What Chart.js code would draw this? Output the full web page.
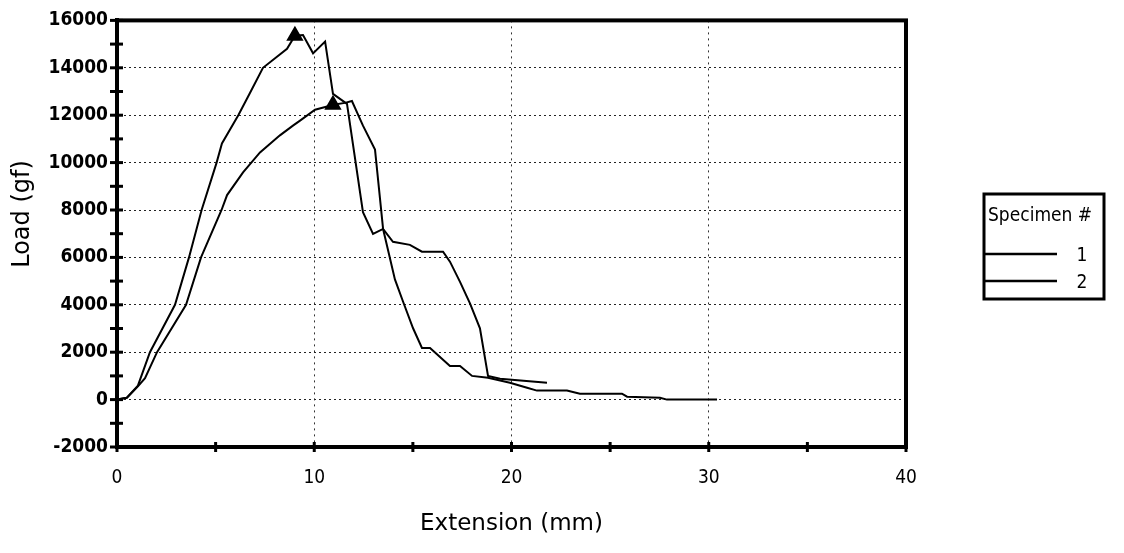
<!DOCTYPE html>
<html><head><meta charset="utf-8">
<style>html,body{margin:0;padding:0;background:#fff;}#wrap{width:1124px;height:553px;}</style>
<script src="https://cdn.jsdelivr.net/npm/chart.js@4.4.1/dist/chart.umd.min.js"></script>
</head><body><div id="wrap"><canvas id="c" width="1124" height="553"></canvas></div>
<script>
// ---- data ----
const seriesNames = ['1', '2'];
const legendTitle = 'Specimen #';
const xTitle = 'Extension (mm)';
const yTitle = 'Load (gf)';
const xTickLabels = [0, 10, 20, 30, 40];
const yTickLabels = [-2000, 0, 2000, 4000, 6000, 8000, 10000, 12000, 14000, 16000];

const ext1  = [0, 0.5, 1.06, 1.67, 2.94, 3.65, 4.29, 5.05, 5.32, 6.15, 6.74, 7.40, 8.62, 9.02, 9.43, 9.94, 10.55, 10.95, 11.66, 12.47, 12.98, 13.49, 13.99, 14.85, 15.46, 16.53, 16.88, 17.39, 17.90, 18.40, 18.81, 19.42, 21.80];
const load1 = [0, 80, 590, 2000, 4000, 6000, 8000, 10000, 10810, 12000, 12940, 14000, 14800, 15350, 15380, 14610, 15110, 12900, 12480, 7910, 6990, 7200, 6660, 6530, 6240, 6240, 5820, 4970, 4050, 3010, 1000, 880, 710];

const ext2  = [0, 0.5, 1.06, 1.42, 2.03, 3.50, 4.26, 5.30, 5.58, 6.39, 7.25, 8.26, 8.92, 9.28, 10.04, 10.80, 10.95, 11.56, 11.91, 12.47, 13.08, 13.49, 14.09, 14.50, 15.01, 15.46, 15.87, 16.88, 17.39, 18.00, 18.81, 19.92, 20.79, 21.29, 22.81, 23.47, 25.60, 25.86, 27.53, 27.88, 30.42];
const load2 = [0, 80, 560, 900, 2000, 4000, 6000, 8000, 8630, 9590, 10430, 11150, 11560, 11770, 12230, 12400, 12440, 12520, 12600, 11560, 10550, 7200, 5070, 4140, 3010, 2180, 2180, 1420, 1420, 1000, 920, 710, 500, 380, 380, 250, 250, 125, 80, 0, 0];

const peakIndex = [13, 16];

// ---- chart ----
const FONT_C = '"DejaVu Sans Condensed", "DejaVu Sans", sans-serif';
const FONT = '"DejaVu Sans", sans-serif';
const toXY = (xs, ys) => xs.map((x, i) => ({x: x, y: ys[i]}));

function mkDataset(name, xs, ys, peak) {
  return {
    label: name,
    data: toXY(xs, ys),
    borderColor: '#000',
    borderWidth: 2,
    tension: 0,
    fill: false,
    pointStyle: 'triangle',
    pointBackgroundColor: '#000',
    pointBorderColor: '#000',
    pointRadius: ctx => ctx.dataIndex === peak ? 8 : 0,
    pointHoverRadius: 0
  };
}

const frame = {
  id: 'frame',
  afterDraw(chart) {
    const {ctx, chartArea: a, scales: {x, y}} = chart;
    ctx.save();
    ctx.strokeStyle = '#000';
    ctx.lineWidth = 4;
    ctx.strokeRect(a.left, a.top, a.right - a.left, a.bottom - a.top);
    // tick marks across the axes
    ctx.lineWidth = 3;
    for (let v = y.min; v <= y.max; v += 1000) {
      const py = y.getPixelForValue(v);
      ctx.beginPath(); ctx.moveTo(a.left - 7, py); ctx.lineTo(a.left + 6, py); ctx.stroke();
    }
    for (let v = x.min; v <= x.max; v += 5) {
      const px = x.getPixelForValue(v);
      ctx.beginPath(); ctx.moveTo(px, a.bottom - 5); ctx.lineTo(px, a.bottom + 5); ctx.stroke();
    }
    // y axis title
    ctx.fillStyle = '#000';
    ctx.save();
    ctx.translate(23, 214);
    ctx.rotate(-Math.PI / 2);
    ctx.font = '24px ' + FONT;
    ctx.textAlign = 'center';
    ctx.textBaseline = 'middle';
    ctx.fillText(yTitle, 0, 0);
    ctx.restore();
    // legend
    const L = 984, T = 194, W = 120, H = 105;
    ctx.lineWidth = 3;
    ctx.strokeRect(L, T, W, H);
    ctx.font = '19px ' + FONT_C;
    ctx.textBaseline = 'middle';
    ctx.textAlign = 'left';
    ctx.fillText(legendTitle, L + 4, 216);
    const rows = [254, 281];
    ctx.lineWidth = 2.5;
    chart.data.datasets.forEach((ds, i) => {
      ctx.beginPath(); ctx.moveTo(L, rows[i]); ctx.lineTo(L + 73, rows[i]); ctx.stroke();
      ctx.textAlign = 'center';
      ctx.fillText(ds.label, L + 98, rows[i] + 2);
    });
    ctx.restore();
  }
};

new Chart(document.getElementById('c'), {
  type: 'line',
  data: {
    datasets: [
      mkDataset(seriesNames[0], ext1, load1, peakIndex[0]),
      mkDataset(seriesNames[1], ext2, load2, peakIndex[1])
    ]
  },
  options: {
    responsive: false,
    animation: false,
    devicePixelRatio: 1,
    layout: {padding: {top: 17, right: 218, left: 0, bottom: 0}},
    plugins: {legend: {display: false}, tooltip: {enabled: false}},
    scales: {
      x: {
        type: 'linear', min: 0, max: 40,
        afterFit: s => { s.height = 106; },
        ticks: {
          stepSize: 5, autoSkip: false, maxRotation: 0, padding: 20,
          color: '#000', font: {family: FONT_C, size: 19},
          callback: v => xTickLabels.includes(v) ? String(v) : ''
        },
        grid: {
          drawTicks: false, lineWidth: 1,
          color: c => (c.tick && [10, 20, 30].includes(c.tick.value)) ? '#333' : 'rgba(0,0,0,0)'
        },
        border: {display: true, color: '#000', width: 4, dash: [2, 4]},
        title: {display: true, text: xTitle, color: '#000', font: {family: FONT, size: 23}, padding: {top: 0, bottom: 15}}
      },
      y: {
        type: 'linear', min: -2000, max: 16000,
        afterFit: s => { s.width = 117; },
        ticks: {
          stepSize: 1000, autoSkip: false, padding: 9,
          color: '#000', font: {family: FONT_C, size: 19, weight: 'bold'},
          callback: v => yTickLabels.includes(v) ? String(v) : ''
        },
        grid: {
          drawTicks: false, lineWidth: 1,
          color: c => (c.tick && c.tick.value % 2000 === 0 && c.tick.value > -2000 && c.tick.value < 16000) ? '#222' : 'rgba(0,0,0,0)'
        },
        border: {display: true, color: '#000', width: 4, dash: [2, 3]},
        title: {display: false}
      }
    }
  },
  plugins: [frame]
});
</script>
</body></html>
